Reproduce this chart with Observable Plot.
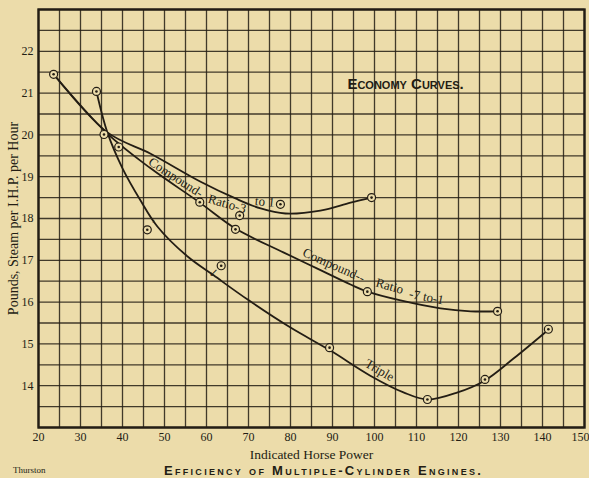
<!DOCTYPE html>
<html>
<head>
<meta charset="utf-8">
<script src="https://cdn.jsdelivr.net/npm/d3@7"></script>
<script src="https://cdn.jsdelivr.net/npm/@observablehq/plot@0.6"></script>
<style>
  html, body { margin: 0; padding: 0; background: #ecdcaa; }
  #wrap { width: 589px; height: 478px; overflow: hidden; background: #ecdcaa; }
  g[aria-label="economy"] text { letter-spacing: 2.6px; }
  #caption { position: relative; width: 589px; height: 16px; color: #231d14; }
  #src { position: absolute; left: 13px; top: 3px; font: 9px "Liberation Serif", serif; }
  #ttl { position: absolute; left: 164px; top: 1px; font: bold 13px "Liberation Sans", sans-serif;
         font-variant: small-caps; letter-spacing: 2.3px; white-space: nowrap; }
</style>
</head>
<body>
<div id="wrap">
  <div id="chart"></div>
  <div id="caption"><span id="src">Thurston</span><span id="ttl">Efficiency of Multiple-Cylinder Engines.</span></div>
</div>
<script>
// ---- data (Indicated horse power vs pounds of steam per I.H.P. per hour) ----
const xTicks = [20, 30, 40, 50, 60, 70, 80, 90, 100, 110, 120, 130, 140];
const xLastTick = [150];
const yTicks = [14, 15, 16, 17, 18, 19, 20, 21, 22];

// smoothed curve "Compound - Ratio 3 to 1"
const comp3HP    = [23.6, 36.4, 46.7, 58.6, 66.9, 72.9, 78.8, 87.1, 94.3, 99.3];
const comp3Steam = [21.45, 20.06, 19.55, 18.88, 18.48, 18.24, 18.12, 18.19, 18.38, 18.50];

// smoothed curve "Compound - Ratio 7 to 1"
const comp7HP    = [23.6, 36.4, 46.7, 58.4, 66.9, 78.3, 86.4, 94.3, 98.3, 106.2, 115.7, 122.9, 129.3];
const comp7Steam = [21.45, 20.03, 19.20, 18.38, 17.76, 17.19, 16.80, 16.42, 16.25, 16.04, 15.85, 15.78, 15.78];

// smoothed curve "Triple"
const tripleHP    = [33.8, 36.4, 40.0, 44.3, 48.3, 55.5, 61.7, 69.8, 80.0, 89.5, 99.0, 106.9, 112.6, 119.8, 126.2, 133.1, 141.4];
const tripleSteam = [21.04, 20.06, 19.20, 18.43, 17.81, 17.09, 16.64, 16.06, 15.39, 14.84, 14.24, 13.84, 13.67, 13.84, 14.12, 14.65, 15.34];

// observed trials (circled points)
const obsHP    = [23.6, 33.8, 35.6, 39.1, 45.9, 58.4, 63.5, 66.9, 67.9, 77.6, 89.3, 98.3, 99.3, 112.6, 126.3, 129.3, 141.4];
const obsSteam = [21.45, 21.04, 20.01, 19.71, 17.73, 18.39, 16.87, 17.74, 18.07, 18.34, 14.91, 16.25, 18.50, 13.67, 14.15, 15.78, 15.35];

// curve labels (written along the curves)
const labelText  = ["Compound-", "Ratio-3", "to 1", "Compound--", "Ratio", "-7 to-1", "Triple"];
const labelHP    = [52.7, 64.9, 73.9, 90.3, 103.6, 112.4, 101.2];
const labelSteam = [18.98, 18.35, 18.40, 16.88, 16.38, 16.12, 14.37];
const labelAngle = [33, 16, 6, 24, 16, 11, 30];

// small pen marks beside two of the trial points
const noteText = ["\u2019", "\u2199"];
const noteHP   = [45.9, 63.5];
const noteSteam = [17.73, 16.87];

const titleText = "Economy Curves.";
const titleHP = 107.4, titleSteam = 21.21;
const xLabel = "Indicated Horse Power";
const yLabel = "Pounds, Steam per I.H.P. per Hour";

// ---- build tables ----
const toRows = (xs, ys) => xs.map((x, i) => ({hp: x, steam: ys[i]}));
const comp3 = toRows(comp3HP, comp3Steam);
const comp7 = toRows(comp7HP, comp7Steam);
const triple = toRows(tripleHP, tripleSteam);
const obs = toRows(obsHP, obsSteam);
const labels = labelText.map((t, i) => ({t, hp: labelHP[i], steam: labelSteam[i], a: labelAngle[i]}));
const notes = noteText.map((t, i) => ({t, hp: noteHP[i], steam: noteSteam[i]}));

const bg = "#ecdcaa";
const ink = "#231d14";
const serif = "Liberation Serif, serif";

const lineOpts = {x: "hp", y: "steam", curve: "catmull-rom", stroke: ink, strokeWidth: 1.8};

const chart = Plot.plot({
  width: 589,
  height: 462,
  marginLeft: 38,
  marginRight: 5,
  marginTop: 9,
  marginBottom: 35,
  x: {domain: [20, 150]},
  y: {domain: [13, 23]},
  style: {background: bg, color: ink, fontFamily: serif, fontSize: "12px", overflow: "visible"},
  marks: [
    Plot.gridX(d3.range(20, 151, 5), {stroke: ink, strokeOpacity: 0.85, strokeWidth: 1.3}),
    Plot.gridY(d3.range(26, 47).map(d => d / 2), {stroke: ink, strokeOpacity: 0.85, strokeWidth: 1.3}),
    Plot.frame({stroke: ink, strokeWidth: 2.4}),
    Plot.axisX({ticks: xTicks, tickSize: 0, tickPadding: 5, label: null, fontSize: 12, fill: ink}),
    Plot.text(xLastTick, {x: d => d, frameAnchor: "bottom", lineAnchor: "top", dy: 5, dx: 5, textAnchor: "end", text: d => d, fontSize: 12, fill: ink}),
    Plot.axisY({ticks: yTicks, tickSize: 0, tickPadding: 5, label: null, fontSize: 12, fill: ink}),
    Plot.line(comp3, lineOpts),
    Plot.line(comp7, lineOpts),
    Plot.line(triple, lineOpts),
    Plot.dot(obs, {x: "hp", y: "steam", r: 4, stroke: ink, strokeWidth: 1.2, fill: bg}),
    Plot.dot(obs, {x: "hp", y: "steam", r: 1.3, fill: ink}),
    Plot.text(notes.slice(0, 1), {x: "hp", y: "steam", text: "t", dx: 6, dy: -6, fontSize: 11, fill: ink}),
    Plot.text(notes.slice(1), {x: "hp", y: "steam", text: "t", dx: -8, dy: 7, fontSize: 11, fill: ink}),
    Plot.text(labels, {x: "hp", y: "steam", text: "t", rotate: "a", fontSize: 13, fill: ink, fontFamily: serif}),
    Plot.text([titleText], {x: titleHP, y: titleSteam, text: d => d, fontFamily: "Liberation Sans, sans-serif",
      fontWeight: "bold", fontSize: 15, fontVariant: "small-caps", fill: ink, ariaLabel: "economy"}),
    Plot.text([xLabel], {frameAnchor: "bottom", dy: 27, lineAnchor: "middle", textAnchor: "middle", text: d => d, fontSize: 13.5, fill: ink, fontFamily: serif}),
    Plot.text([yLabel], {frameAnchor: "left", dx: -25, rotate: -90, textAnchor: "middle", lineAnchor: "middle", text: d => d, fontSize: 14, fill: ink, fontFamily: serif})
  ]
});
document.getElementById("chart").appendChild(chart);
</script>
</body>
</html>
